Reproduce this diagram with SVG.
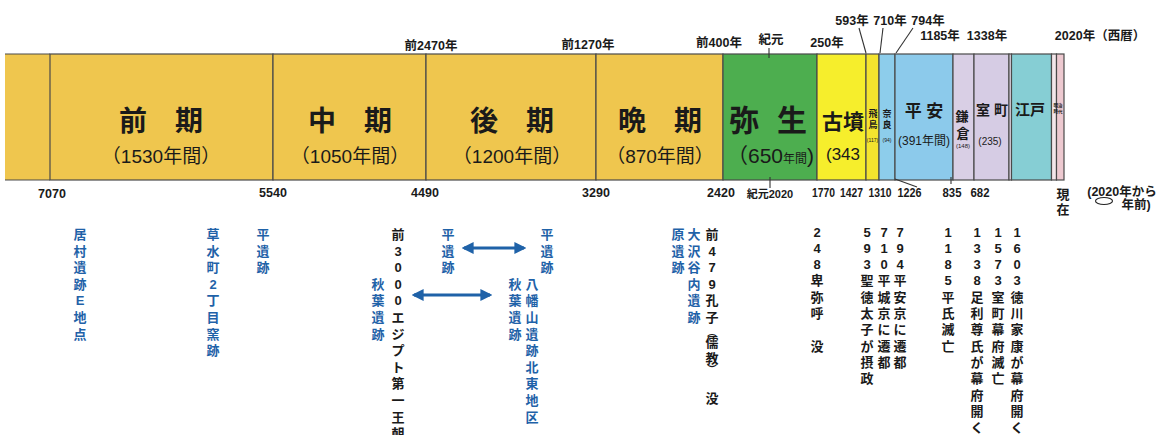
<svg xmlns="http://www.w3.org/2000/svg" width="1157" height="435" viewBox="0 0 1157 435">
<defs>
<style>
text{font-family:"Liberation Sans","Noto Sans CJK JP",sans-serif;fill:#1a1a1a}
.hd{font-size:12.5px;font-weight:bold}
.big{font-size:28px;font-weight:bold;text-anchor:middle}
.yr{font-size:19px;text-anchor:middle}
.num{font-size:12.5px;font-weight:bold;text-anchor:middle}
.col{font-size:13px;font-weight:bold;text-anchor:middle}
.blue,.blue text{fill:#1f62a8}
.seg{stroke:#4a4a4a;stroke-width:1.2}
.tick{stroke:#333;stroke-width:1.1;fill:none}
.arr{stroke:#1f62a8;stroke-width:3;fill:none;marker-start:url(#ah);marker-end:url(#ah)}
</style>
<marker id="ah" viewBox="0 0 10 10" refX="8" refY="5" markerWidth="4" markerHeight="4" orient="auto-start-reverse" markerUnits="strokeWidth">
<path d="M0,0 L10,5 L0,10 Z" fill="#1f62a8"/>
</marker>
</defs>
<rect width="1157" height="435" fill="#ffffff"/>

<g id="band">
<rect id="seg-pre" x="5" y="54" width="45" height="126" fill="#EFC64E"/>
<rect id="seg-zenki" class="seg" x="50" y="54" width="223" height="126" fill="#EFC64E"/>
<rect id="seg-chuki" class="seg" x="273" y="54" width="153" height="126" fill="#EFC64E"/>
<rect id="seg-koki" class="seg" x="426" y="54" width="170" height="126" fill="#EFC64E"/>
<rect id="seg-banki" class="seg" x="596" y="54" width="127" height="126" fill="#EFC64E"/>
<rect id="seg-yayoi" class="seg" x="723" y="54" width="94" height="126" fill="#4DAE4F"/>
<rect id="seg-kofun" class="seg" x="817" y="54" width="49" height="126" fill="#F6EE2C"/>
<rect id="seg-asuka" class="seg" x="866" y="54" width="13" height="126" fill="#F4E42E"/>
<rect id="seg-nara" class="seg" x="879" y="54" width="16" height="126" fill="#8DCDEB"/>
<rect id="seg-heian" class="seg" x="895" y="54" width="58" height="126" fill="#8CCAEB"/>
<rect id="seg-kamakura" class="seg" x="953" y="54" width="21" height="126" fill="#D9CFE5"/>
<rect id="seg-muromachi" class="seg" x="974" y="54" width="35" height="126" fill="#D6CCE4"/>
<rect id="seg-gap" class="seg" x="1009" y="54" width="2.5" height="126" fill="#E8E0EE"/>
<rect id="seg-edo" class="seg" x="1011.5" y="54" width="40" height="126" fill="#86CED4"/>
<rect id="seg-meiji" class="seg" x="1051.5" y="54" width="5" height="126" fill="#F3E6EA"/>
<rect id="seg-gendai" class="seg" x="1056.5" y="54" width="7.5" height="126" fill="#EDC9D0"/>
<line x1="5" y1="54" x2="50" y2="54" stroke="#4a4a4a" stroke-width="1.2"/>
<line x1="5" y1="180" x2="50" y2="180" stroke="#4a4a4a" stroke-width="1.2"/>
</g>

<g id="band-labels">
<text class="big" x="161" y="131">前　期</text>
<text class="yr" x="161" y="163">（1530年間）</text>
<text class="big" x="350" y="131">中　期</text>
<text class="yr" x="350" y="163">（1050年間）</text>
<text class="big" x="512" y="131">後　期</text>
<text class="yr" x="512" y="163">（1200年間）</text>
<text class="big" x="660" y="131">晩　期</text>
<text class="yr" x="660" y="163">（870年間）</text>
<text style="font-size:30px;font-weight:bold;text-anchor:middle"><tspan x="744" y="131">弥</tspan><tspan x="792" y="131">生</tspan></text>
<text x="727" y="163" style="font-size:21px">（650<tspan style="font-size:12px">年間</tspan>)</text>
<text x="822" y="129" style="font-size:21px;font-weight:bold">古墳</text>
<text x="826" y="160" style="font-size:17px">(343</text>
<text style="font-size:9px;font-weight:bold;text-anchor:middle"><tspan x="873" y="117">飛</tspan><tspan x="873" y="128">鳥</tspan></text>
<text x="872.5" y="142" style="font-size:5px;text-anchor:middle">(117)</text>
<text style="font-size:9px;font-weight:bold;text-anchor:middle"><tspan x="887" y="117">奈</tspan><tspan x="887" y="128">良</tspan></text>
<text x="887" y="142" style="font-size:5px;text-anchor:middle">(94)</text>
<text x="924" y="117" style="font-size:17px;font-weight:bold;text-anchor:middle">平 安</text>
<text x="924" y="145" style="font-size:12px;text-anchor:middle">(391年間)</text>
<text style="font-size:13px;font-weight:bold;text-anchor:middle"><tspan x="962" y="121">鎌</tspan><tspan x="963" y="138">倉</tspan></text>
<text x="963" y="148" style="font-size:6px;text-anchor:middle">(148)</text>
<text x="992" y="115" style="font-size:14px;font-weight:bold;text-anchor:middle">室 町</text>
<text x="990" y="145" style="font-size:10px;text-anchor:middle">(235)</text>
<text x="1030" y="115" style="font-size:15px;font-weight:bold;text-anchor:middle">江戸</text>
<text style="font-size:4.5px;font-weight:bold;text-anchor:middle"><tspan x="1058" y="107">明治</tspan><tspan x="1058" y="113">時代</tspan></text>
</g>

<g id="top-labels" class="hd">
<text x="431" y="50" text-anchor="middle">前2470年</text>
<text x="588" y="49" text-anchor="middle">前1270年</text>
<text x="719" y="47" text-anchor="middle">前400年</text>
<text x="771" y="44" text-anchor="middle">紀元</text>
<text x="827" y="47" text-anchor="middle">250年</text>
<text x="852" y="25" text-anchor="middle">593年</text>
<text x="890" y="25" text-anchor="middle">710年</text>
<text x="928" y="25" text-anchor="middle">794年</text>
<text x="940" y="40" text-anchor="middle">1185年</text>
<text x="987" y="40" text-anchor="middle">1338年</text>
<text x="1100" y="40" text-anchor="middle">2020年（西暦）</text>
</g>

<g id="connectors">
<line class="tick" x1="769" y1="48" x2="769" y2="58"/>
<line class="tick" x1="770" y1="177" x2="770" y2="188"/>
<line class="tick" x1="859" y1="28" x2="866" y2="53"/>
<line class="tick" x1="883" y1="28" x2="880" y2="53"/>
<line class="tick" x1="913" y1="28" x2="896" y2="53"/>
<line class="tick" x1="895" y1="179" x2="917" y2="187"/>
<line class="tick" x1="951" y1="177" x2="951" y2="184"/>
<line class="arr" x1="464" y1="248" x2="524" y2="248"/>
<line class="arr" x1="414" y1="295" x2="490" y2="295"/>
</g>

<g id="bottom-numbers" class="num">
<text x="52" y="198">7070</text>
<text x="273" y="197">5540</text>
<text x="425" y="197">4490</text>
<text x="596" y="197">3290</text>
<text x="721" y="197">2420</text>
<text x="770" y="198" style="font-size:11px">紀元2020</text>
<text x="823.5" y="197" style="font-size:13px" textLength="23" lengthAdjust="spacingAndGlyphs">1770</text>
<text x="851.5" y="197" style="font-size:13px" textLength="23" lengthAdjust="spacingAndGlyphs">1427</text>
<text x="880" y="197" style="font-size:13px" textLength="23" lengthAdjust="spacingAndGlyphs">1310</text>
<text x="909.5" y="197" style="font-size:13px" textLength="24" lengthAdjust="spacingAndGlyphs">1226</text>
<text x="952" y="197" style="font-size:13px" textLength="19" lengthAdjust="spacingAndGlyphs">835</text>
<text x="980" y="197" style="font-size:13px" textLength="19" lengthAdjust="spacingAndGlyphs">682</text>
<text style="font-size:13px"><tspan x="1063" y="199">現</tspan><tspan x="1063" y="214">在</tspan></text>
<text x="1122" y="196" style="font-size:12.5px">(2020年から</text>
<ellipse cx="1104" cy="201" rx="8.5" ry="3.5" fill="none" stroke="#222" stroke-width="1.1"/>
<text x="1136" y="209" style="font-size:12.5px">年前)</text>
</g>

<g id="notes-left" class="col blue">
<text><tspan x="80" y="239">居</tspan><tspan x="80" dy="16.6">村</tspan><tspan x="80" dy="16.6">遺</tspan><tspan x="80" dy="16.6">跡</tspan><tspan x="80" dy="16.6">E</tspan><tspan x="80" dy="16.6">地</tspan><tspan x="80" dy="16.6">点</tspan></text>
<text><tspan x="213" y="239">草</tspan><tspan x="213" dy="16.6">水</tspan><tspan x="213" dy="16.6">町</tspan><tspan x="213" dy="16.6">2</tspan><tspan x="213" dy="16.6">丁</tspan><tspan x="213" dy="16.6">目</tspan><tspan x="213" dy="16.6">窯</tspan><tspan x="213" dy="16.6">跡</tspan></text>
<text><tspan x="263" y="239">平</tspan><tspan x="263" dy="16.6">遺</tspan><tspan x="263" dy="16.6">跡</tspan></text>
</g>

<g id="notes-middle" class="col">
<text><tspan x="398" y="239">前</tspan><tspan x="398" dy="16.6">3</tspan><tspan x="398" dy="16.6">0</tspan><tspan x="398" dy="16.6">0</tspan><tspan x="398" dy="16.6">0</tspan><tspan x="398" dy="16.6">エ</tspan><tspan x="398" dy="16.6">ジ</tspan><tspan x="398" dy="16.6">プ</tspan><tspan x="398" dy="16.6">ト</tspan><tspan x="398" dy="16.6">第</tspan><tspan x="398" dy="16.6">一</tspan><tspan x="398" dy="16.6">王</tspan><tspan x="398" dy="16.6">朝</tspan></text>
<text class="blue"><tspan x="378" y="288.8">秋</tspan><tspan x="378" dy="16.6">葉</tspan><tspan x="378" dy="16.6">遺</tspan><tspan x="378" dy="16.6">跡</tspan></text>
<text class="blue"><tspan x="448" y="239">平</tspan><tspan x="448" dy="16.6">遺</tspan><tspan x="448" dy="16.6">跡</tspan></text>
<text class="blue"><tspan x="547" y="239">平</tspan><tspan x="547" dy="16.6">遺</tspan><tspan x="547" dy="16.6">跡</tspan></text>
<text class="blue"><tspan x="515" y="288.8">秋</tspan><tspan x="515" dy="16.6">葉</tspan><tspan x="515" dy="16.6">遺</tspan><tspan x="515" dy="16.6">跡</tspan></text>
<text class="blue"><tspan x="532" y="288.8">八</tspan><tspan x="532" dy="16.6">幡</tspan><tspan x="532" dy="16.6">山</tspan><tspan x="532" dy="16.6">遺</tspan><tspan x="532" dy="16.6">跡</tspan><tspan x="532" dy="16.6">北</tspan><tspan x="532" dy="16.6">東</tspan><tspan x="532" dy="16.6">地</tspan><tspan x="532" dy="16.6">区</tspan></text>
<text class="blue"><tspan x="678" y="239">原</tspan><tspan x="678" dy="16.6">遺</tspan><tspan x="678" dy="16.6">跡</tspan></text>
<text class="blue"><tspan x="694" y="239">大</tspan><tspan x="694" dy="16.6">沢</tspan><tspan x="694" dy="16.6">谷</tspan><tspan x="694" dy="16.6">内</tspan><tspan x="694" dy="16.6">遺</tspan><tspan x="694" dy="16.6">跡</tspan></text>
<text><tspan x="712" y="239">前</tspan><tspan x="712" dy="16.6">4</tspan><tspan x="712" dy="16.6">7</tspan><tspan x="712" dy="16.6">9</tspan><tspan x="712" dy="16.6">孔</tspan><tspan x="712" dy="16.6">子</tspan><tspan x="712" y="336" style="font-size:10px">︵</tspan><tspan x="712" y="347">儒</tspan><tspan x="712" y="363">教</tspan><tspan x="712" y="373" style="font-size:10px">︶</tspan><tspan x="712" y="403">没</tspan></text>
</g>

<g id="notes-right" class="col">
<text><tspan x="817" y="236.5">2</tspan><tspan x="817" dy="16.3">4</tspan><tspan x="817" dy="16.3">8</tspan><tspan x="817" dy="16.3">卑</tspan><tspan x="817" dy="16.3">弥</tspan><tspan x="817" dy="16.3">呼</tspan><tspan x="817" dy="32.6">没</tspan></text>
<text><tspan x="867" y="236.5">5</tspan><tspan x="867" dy="16.3">9</tspan><tspan x="867" dy="16.3">3</tspan><tspan x="867" dy="16.3">聖</tspan><tspan x="867" dy="16.3">徳</tspan><tspan x="867" dy="16.3">太</tspan><tspan x="867" dy="16.3">子</tspan><tspan x="867" dy="16.3">が</tspan><tspan x="867" dy="16.3">摂</tspan><tspan x="867" dy="16.3">政</tspan></text>
<text><tspan x="884" y="236.5">7</tspan><tspan x="884" dy="16.3">1</tspan><tspan x="884" dy="16.3">0</tspan><tspan x="884" dy="16.3">平</tspan><tspan x="884" dy="16.3">城</tspan><tspan x="884" dy="16.3">京</tspan><tspan x="884" dy="16.3">に</tspan><tspan x="884" dy="16.3">遷</tspan><tspan x="884" dy="16.3">都</tspan></text>
<text><tspan x="900" y="236.5">7</tspan><tspan x="900" dy="16.3">9</tspan><tspan x="900" dy="16.3">4</tspan><tspan x="900" dy="16.3">平</tspan><tspan x="900" dy="16.3">安</tspan><tspan x="900" dy="16.3">京</tspan><tspan x="900" dy="16.3">に</tspan><tspan x="900" dy="16.3">遷</tspan><tspan x="900" dy="16.3">都</tspan></text>
<text><tspan x="948" y="236.5">1</tspan><tspan x="948" dy="16.3">1</tspan><tspan x="948" dy="16.3">8</tspan><tspan x="948" dy="16.3">5</tspan><tspan x="948" dy="16.3">平</tspan><tspan x="948" dy="16.3">氏</tspan><tspan x="948" dy="16.3">滅</tspan><tspan x="948" dy="16.3">亡</tspan></text>
<text><tspan x="977" y="236.5">1</tspan><tspan x="977" dy="16.3">3</tspan><tspan x="977" dy="16.3">3</tspan><tspan x="977" dy="16.3">8</tspan><tspan x="977" dy="16.3">足</tspan><tspan x="977" dy="16.3">利</tspan><tspan x="977" dy="16.3">尊</tspan><tspan x="977" dy="16.3">氏</tspan><tspan x="977" dy="16.3">が</tspan><tspan x="977" dy="16.3">幕</tspan><tspan x="977" dy="16.3">府</tspan><tspan x="977" dy="16.3">開</tspan><tspan x="977" dy="16.3">く</tspan></text>
<text><tspan x="998" y="236.5">1</tspan><tspan x="998" dy="16.3">5</tspan><tspan x="998" dy="16.3">7</tspan><tspan x="998" dy="16.3">3</tspan><tspan x="998" dy="16.3">室</tspan><tspan x="998" dy="16.3">町</tspan><tspan x="998" dy="16.3">幕</tspan><tspan x="998" dy="16.3">府</tspan><tspan x="998" dy="16.3">滅</tspan><tspan x="998" dy="16.3">亡</tspan></text>
<text><tspan x="1017" y="236.5">1</tspan><tspan x="1017" dy="16.3">6</tspan><tspan x="1017" dy="16.3">0</tspan><tspan x="1017" dy="16.3">3</tspan><tspan x="1017" dy="16.3">徳</tspan><tspan x="1017" dy="16.3">川</tspan><tspan x="1017" dy="16.3">家</tspan><tspan x="1017" dy="16.3">康</tspan><tspan x="1017" dy="16.3">が</tspan><tspan x="1017" dy="16.3">幕</tspan><tspan x="1017" dy="16.3">府</tspan><tspan x="1017" dy="16.3">開</tspan><tspan x="1017" dy="16.3">く</tspan></text>
</g>
</svg>
